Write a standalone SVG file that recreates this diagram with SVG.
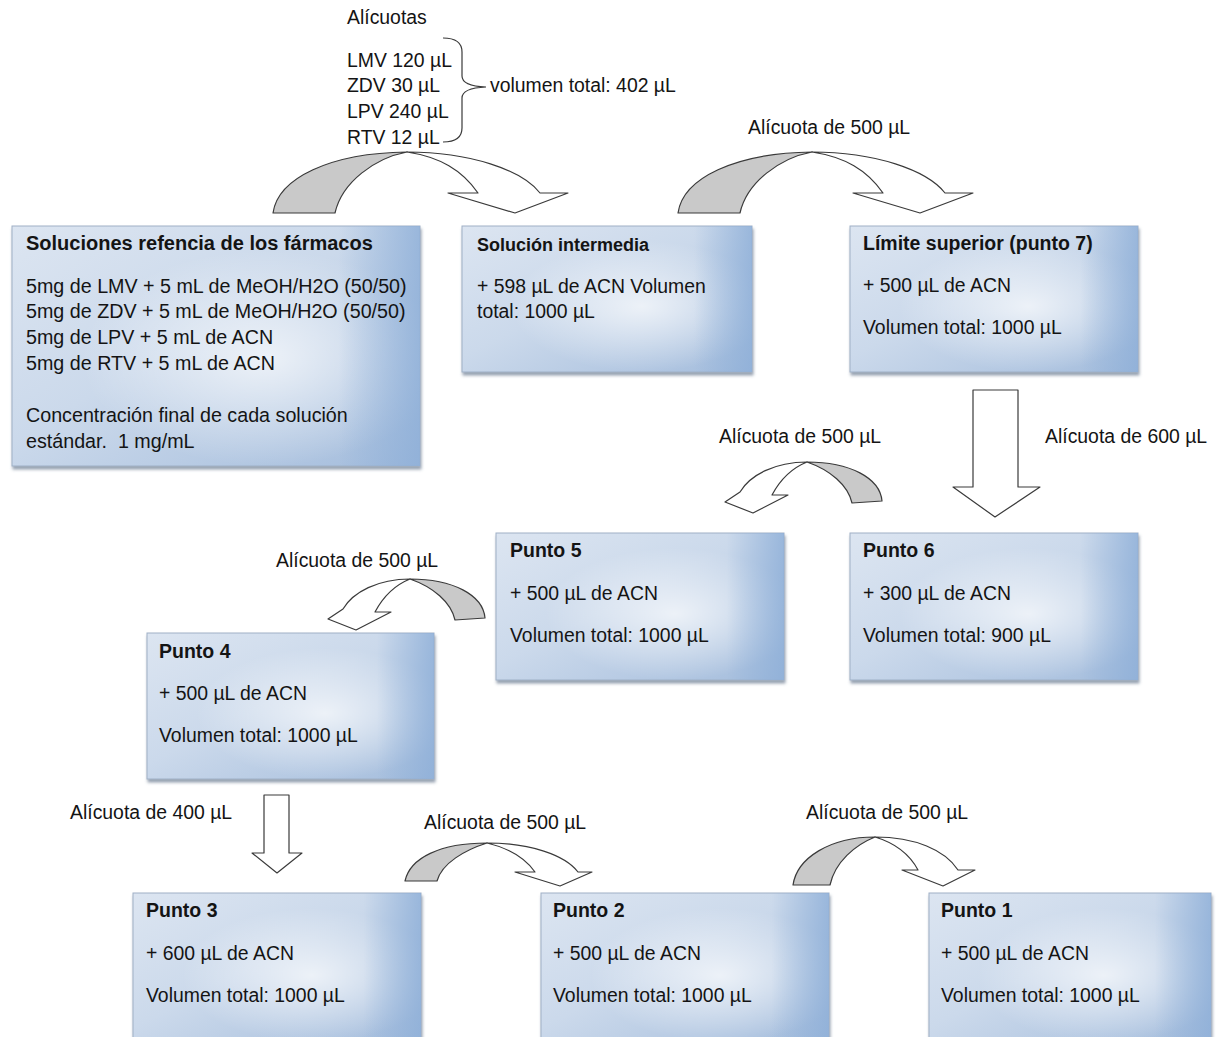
<svg xmlns="http://www.w3.org/2000/svg" width="1220" height="1037" viewBox="0 0 1220 1037">
  <style>
    .t { font-family: "Liberation Sans", Arial, sans-serif; font-size: 19.4px; fill: #141414; }
    .b { font-weight: bold; font-size: 19.5px; }
    .big { font-size: 19.7px; }
    .hd { font-size: 20px; }
    .box { fill: url(#boxGrad); stroke: #9fb0c6; stroke-width: 1; filter: url(#shadow); }
    .gloss { fill: url(#gloss); }
    .edge { fill: url(#edge); }
    .back { fill: #c9c9c9; stroke: #3a3a3a; stroke-width: 1.2; stroke-linejoin: round; }
    .front { fill: #ffffff; stroke: #3a3a3a; stroke-width: 1.2; stroke-linejoin: round; }
    .brace { fill: none; stroke: #3a3a3a; stroke-width: 1.2; }
  </style>
  <defs>
    <linearGradient id="boxGrad" x1="0" y1="0" x2="1" y2="1">
      <stop offset="0" stop-color="#dce5f1"/>
      <stop offset="0.45" stop-color="#cbd9eb"/>
      <stop offset="1" stop-color="#a3bcdc"/>
    </linearGradient>
    <radialGradient id="gloss" cx="0.62" cy="0.55" r="0.45">
      <stop offset="0" stop-color="#ffffff" stop-opacity="0.7"/>
      <stop offset="1" stop-color="#ffffff" stop-opacity="0"/>
    </radialGradient>
    <linearGradient id="edge" x1="0" y1="0" x2="1" y2="0">
      <stop offset="0.8" stop-color="#8eafd8" stop-opacity="0"/>
      <stop offset="1" stop-color="#8eafd8" stop-opacity="0.8"/>
    </linearGradient>
    <filter id="shadow" x="-5%" y="-5%" width="112%" height="118%">
      <feDropShadow dx="1" dy="3" stdDeviation="1.5" flood-color="#5d6e86" flood-opacity="0.65"/>
    </filter>
  </defs>

  <rect width="1220" height="1037" fill="#ffffff"/>

  <!-- aliquot list with brace -->
  <g id="aliquots">
    <text class="t" x="347" y="24">Alícuotas</text>
    <text class="t" x="347" y="67">LMV 120 µL</text>
    <text class="t" x="347" y="92">ZDV 30 µL</text>
    <text class="t" x="347" y="118">LPV 240 µL</text>
    <text class="t" x="347" y="144">RTV 12 µL</text>
    <path class="brace" d="M443,38 Q462,38 462,52 L462,76 Q462,86 486,87 Q462,88 462,98 L462,128 Q462,142 443,142"/>
    <text class="t" x="490" y="92">volumen total: 402 µL</text>
  </g>

  <!-- process boxes -->
  <g id="stock">
    <rect class="box" x="12" y="226" width="408" height="240"/>
    <rect class="gloss" x="12" y="226" width="408" height="240"/>
    <rect class="edge" x="12" y="226" width="408" height="240"/>
    <text class="t b hd" x="26" y="250">Soluciones refencia de los fármacos</text>
    <text class="t big" x="26" y="293">5mg de LMV + 5 mL de MeOH/H2O (50/50)</text>
    <text class="t big" x="26" y="318">5mg de ZDV + 5 mL de MeOH/H2O (50/50)</text>
    <text class="t big" x="26" y="344">5mg de LPV + 5 mL de ACN</text>
    <text class="t big" x="26" y="370">5mg de RTV + 5 mL de ACN</text>
    <text class="t big" x="26" y="422">Concentración final de cada solución</text>
    <text class="t big" x="26" y="448" xml:space="preserve">estándar.  1 mg/mL</text>
  </g>

  <g id="intermediate">
    <rect class="box" x="462" y="226" width="290" height="146"/>
    <rect class="gloss" x="462" y="226" width="290" height="146"/>
    <rect class="edge" x="462" y="226" width="290" height="146"/>
    <text class="t b" x="477" y="251" style="font-size:18px">Solución intermedia</text>
    <text class="t" x="477" y="293">+ 598 µL de ACN Volumen</text>
    <text class="t" x="477" y="318">total: 1000 µL</text>
  </g>

  <g id="punto7">
    <rect class="box" x="850" y="226" width="288" height="146"/>
    <rect class="gloss" x="850" y="226" width="288" height="146"/>
    <rect class="edge" x="850" y="226" width="288" height="146"/>
    <text class="t b" x="863" y="250">Límite superior (punto 7)</text>
    <text class="t" x="863" y="292">+ 500 µL de ACN</text>
    <text class="t" x="863" y="334">Volumen total: 1000 µL</text>
  </g>

  <g id="punto5">
    <rect class="box" x="496" y="533" width="288" height="147"/>
    <rect class="gloss" x="496" y="533" width="288" height="147"/>
    <rect class="edge" x="496" y="533" width="288" height="147"/>
    <text class="t b" x="510" y="557">Punto 5</text>
    <text class="t" x="510" y="600">+ 500 µL de ACN</text>
    <text class="t" x="510" y="642">Volumen total: 1000 µL</text>
  </g>

  <g id="punto6">
    <rect class="box" x="850" y="533" width="288" height="147"/>
    <rect class="gloss" x="850" y="533" width="288" height="147"/>
    <rect class="edge" x="850" y="533" width="288" height="147"/>
    <text class="t b" x="863" y="557">Punto 6</text>
    <text class="t" x="863" y="600">+ 300 µL de ACN</text>
    <text class="t" x="863" y="642">Volumen total: 900 µL</text>
  </g>

  <g id="punto4">
    <rect class="box" x="147" y="633" width="287" height="146"/>
    <rect class="gloss" x="147" y="633" width="287" height="146"/>
    <rect class="edge" x="147" y="633" width="287" height="146"/>
    <text class="t b" x="159" y="658">Punto 4</text>
    <text class="t" x="159" y="700">+ 500 µL de ACN</text>
    <text class="t" x="159" y="742">Volumen total: 1000 µL</text>
  </g>

  <g id="punto3">
    <rect class="box" x="133" y="893" width="288" height="150"/>
    <rect class="gloss" x="133" y="893" width="288" height="150"/>
    <rect class="edge" x="133" y="893" width="288" height="150"/>
    <text class="t b" x="146" y="917">Punto 3</text>
    <text class="t" x="146" y="960">+ 600 µL de ACN</text>
    <text class="t" x="146" y="1002">Volumen total: 1000 µL</text>
  </g>

  <g id="punto2">
    <rect class="box" x="541" y="893" width="288" height="150"/>
    <rect class="gloss" x="541" y="893" width="288" height="150"/>
    <rect class="edge" x="541" y="893" width="288" height="150"/>
    <text class="t b" x="553" y="917">Punto 2</text>
    <text class="t" x="553" y="960">+ 500 µL de ACN</text>
    <text class="t" x="553" y="1002">Volumen total: 1000 µL</text>
  </g>

  <g id="punto1">
    <rect class="box" x="929" y="893" width="282" height="150"/>
    <rect class="gloss" x="929" y="893" width="282" height="150"/>
    <rect class="edge" x="929" y="893" width="282" height="150"/>
    <text class="t b" x="941" y="917">Punto 1</text>
    <text class="t" x="941" y="960">+ 500 µL de ACN</text>
    <text class="t" x="941" y="1002">Volumen total: 1000 µL</text>
  </g>

  <!-- transfer arrows and their labels -->
  <g id="connectors">
    <!-- stock to intermediate -->
    <g id="arc1">
      <path class="back" d="M273,213 C278,178 330,153 407,152 C375,158 342,182 335,213 Z"/>
      <path class="front" d="M407,152 C470,152 522,170 540,193 L568,193 L515,213 L448,193 L478,193 C462,170 440,157 407,152 Z"/>
    </g>
    <!-- intermediate to punto 7 -->
    <g id="arc2" transform="translate(405,0)">
      <path class="back" d="M273,213 C278,178 330,153 407,152 C375,158 342,182 335,213 Z"/>
      <path class="front" d="M407,152 C470,152 522,170 540,193 L568,193 L515,213 L448,193 L478,193 C462,170 440,157 407,152 Z"/>
    </g>
    <text class="t" x="748" y="134">Alícuota de 500 µL</text>

    <!-- punto 7 to punto 6 -->
    <polygon class="front" points="973,390 1018,390 1018,487 1040,487 995,517 953,487 973,487"/>
    <text class="t" x="1045" y="443">Alícuota de 600 µL</text>

    <!-- punto 6 to punto 5 -->
    <g id="arc3">
      <path class="back" d="M882,501 C880,478 850,462 807,462 C830,470 848,485 852,503 Z"/>
      <path class="front" d="M807,462 C775,462 750,475 740,492 L725,502 L753,513 L788,495 L772,495 C780,480 792,468 807,462 Z"/>
    </g>
    <text class="t" x="719" y="443">Alícuota de 500 µL</text>

    <!-- punto 5 to punto 4 -->
    <g id="arc4" transform="translate(-397,117)">
      <path class="back" d="M882,501 C880,478 850,462 807,462 C830,470 848,485 852,503 Z"/>
      <path class="front" d="M807,462 C775,462 750,475 740,492 L725,502 L753,513 L788,495 L772,495 C780,480 792,468 807,462 Z"/>
    </g>
    <text class="t" x="276" y="567">Alícuota de 500 µL</text>

    <!-- punto 4 to punto 3 -->
    <polygon class="front" points="264,795 289,795 289,853 302,853 277,873 252,853 264,853"/>
    <text class="t" x="70" y="819">Alícuota de 400 µL</text>

    <!-- punto 3 to punto 2 -->
    <g id="arc5">
      <path class="back" d="M405,881 C410,858 440,843 487,843 C465,850 442,863 437,881 Z"/>
      <path class="front" d="M487,843 C530,843 565,855 578,872 L592,872 L560,886 L515,872 L535,872 C525,858 508,848 487,843 Z"/>
    </g>
    <text class="t" x="424" y="829">Alícuota de 500 µL</text>

    <!-- punto 2 to punto 1 -->
    <g id="arc6">
      <path class="back" d="M793,885 C797,858 830,837 875,837 C855,845 835,862 830,885 Z"/>
      <path class="front" d="M875,837 C915,837 945,850 958,870 L975,870 L943,886 L902,870 L918,870 C910,855 895,843 875,837 Z"/>
    </g>
    <text class="t" x="806" y="819">Alícuota de 500 µL</text>
  </g>
</svg>
